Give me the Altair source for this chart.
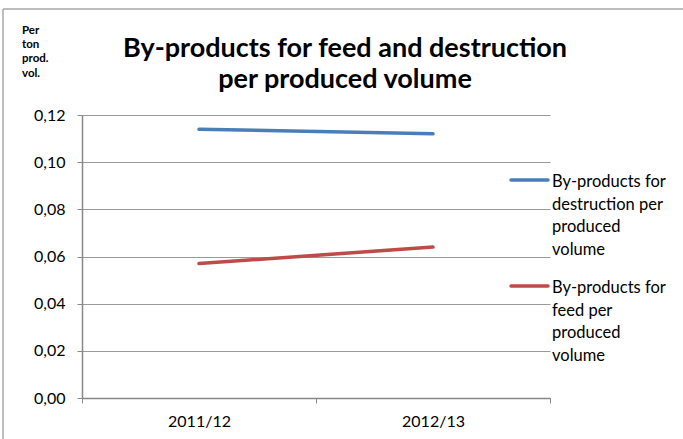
import altair as alt
import pandas as pd

# ---- data ----
periods = ["2011/12", "2012/13"]
destruction = [0.114, 0.112]
feed = [0.057, 0.064]
series_names = [
    "By-products for destruction per produced volume",
    "By-products for feed per produced volume",
]
series_colors = ["#4A7EBB", "#BE4B48"]
legend_lines = [
    ["By-products for", "destruction per", "produced", "volume"],
    ["By-products for", "feed per", "produced", "volume"],
]
title_lines = ["By-products for feed and destruction", "per produced volume"]
unit_lines = ["Per", "ton", "prod.", "vol."]
y_ticks = [0.0, 0.02, 0.04, 0.06, 0.08, 0.10, 0.12]

rows = []
for name, vals in zip(series_names, [destruction, feed]):
    for p, v in zip(periods, vals):
        rows.append({"period": p, "series": name, "value": v})
df = pd.DataFrame(rows)

FONT = "Lato"
W, H = 468, 283

base = alt.Chart(df)

lines = base.mark_line(strokeWidth=3.5, strokeCap="round").encode(
    x=alt.X(
        "period:N",
        sort=periods,
        scale=alt.Scale(type="band", paddingInner=0, paddingOuter=0),
        axis=alt.Axis(
            title=None,
            labelAngle=0,
            labelFont=FONT,
            labelFontSize=16,
            labelColor="#000000",
            labelPadding=10,
            tickBand="extent",
            tickSize=5,
            tickColor="#888888",
            domainColor="#888888",
            domainWidth=1.5,
            grid=False,
        ),
    ),
    y=alt.Y(
        "value:Q",
        scale=alt.Scale(domain=[0, 0.12], nice=False),
        axis=alt.Axis(
            title=None,
            values=y_ticks,
            format=".2f",
            labelExpr="replace(datum.label, '.', ',')",
            labelFont=FONT,
            labelFontSize=16,
            labelColor="#000000",
            labelPadding=12,
            tickSize=5,
            tickColor="#888888",
            domainColor="#888888",
            domainWidth=1.5,
            gridColor="#9a9a9a",
            gridWidth=1.2,
        ),
    ),
    color=alt.Color(
        "series:N",
        scale=alt.Scale(domain=series_names, range=series_colors),
        legend=None,
    ),
)

one = alt.Chart(pd.DataFrame({"k": [0]}))

layers = [lines]

# legend entries: a stroke swatch followed by wrapped label text
legend_y = [65, 171]
for color, text_lines, ly in zip(series_colors, legend_lines, legend_y):
    layers.append(
        one.mark_rule(strokeWidth=3.5, strokeCap="round", color=color).encode(
            x=alt.value(429), x2=alt.value(466), y=alt.value(ly)
        )
    )
    layers.append(
        one.mark_text(
            align="left", baseline="alphabetic", font=FONT, fontSize=16.5,
            lineHeight=22.5, color="#000000",
        ).encode(x=alt.value(470), y=alt.value(ly + 7), text=alt.value(text_lines))
    )

# chart title
layers.append(
    one.mark_text(
        align="center", baseline="alphabetic", font=FONT, fontSize=27,
        fontWeight="bold", lineHeight=31, color="#000000",
    ).encode(x=alt.value(263), y=alt.value(-58), text=alt.value(title_lines))
)

# unit caption above the value axis
layers.append(
    one.mark_text(
        align="left", baseline="alphabetic", font=FONT, fontSize=11.5,
        fontWeight="bold", lineHeight=14.2, color="#000000",
    ).encode(x=alt.value(-60), y=alt.value(-81), text=alt.value(unit_lines))
)

# outer frame edges
layers.append(
    one.mark_rule(color="#a8a8a8", strokeWidth=1.5).encode(
        x=alt.value(-79), x2=alt.value(-79), y=alt.value(-106), y2=alt.value(330)
    )
)
layers.append(
    one.mark_rule(color="#a8a8a8", strokeWidth=1.5).encode(
        x=alt.value(-79), x2=alt.value(610), y=alt.value(-106), y2=alt.value(-106)
    )
)

chart = (
    alt.layer(*layers)
    .properties(
        width=W,
        height=H,
        autosize=alt.AutoSizeParams(type="none"),
        padding={"left": 82, "top": 115, "right": 133, "bottom": 41},
        background="#ffffff",
    )
    .configure_view(stroke=None)
)

chart.save("out.html", embed_options={"renderer": "svg", "actions": False})
